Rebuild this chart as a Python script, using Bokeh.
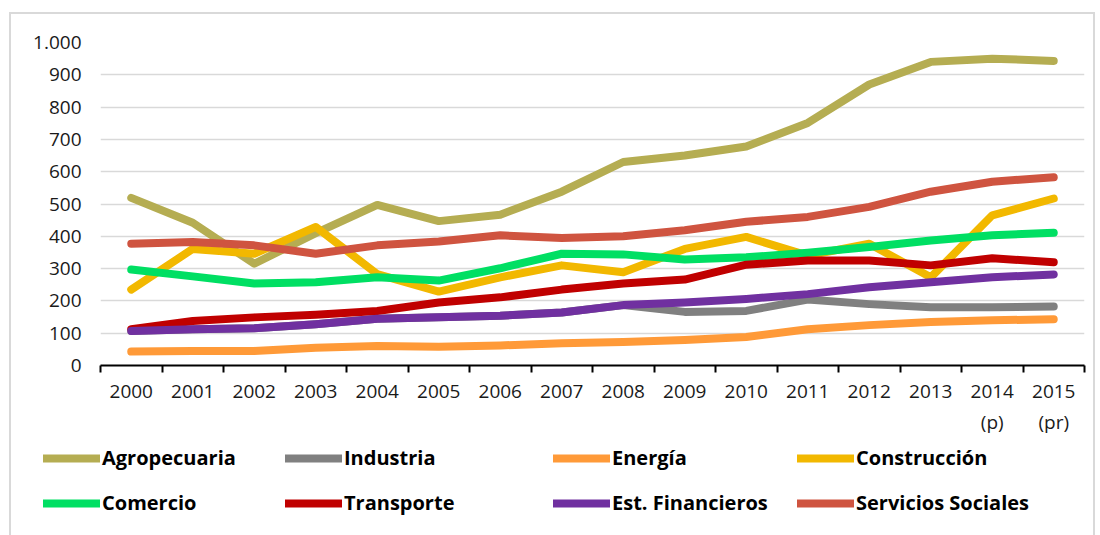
from bokeh.plotting import figure
from bokeh.layouts import column
from bokeh.models import Range1d, FixedTicker, LinearAxis, Legend, LegendItem
from bokeh.embed import file_html
from bokeh.resources import INLINE

years = ["2000", "2001", "2002", "2003", "2004", "2005", "2006", "2007",
         "2008", "2009", "2010", "2011", "2012", "2013", "2014\n(p)", "2015\n(pr)"]

agropecuaria = [519, 442, 315, 410, 497, 447, 467, 538, 630, 650, 678, 751, 870, 940, 950, 943]
industria = [107, 112, 115, 128, 145, 149, 154, 164, 187, 166, 169, 204, 190, 180, 180, 183]
energia = [43, 45, 45, 55, 60, 58, 62, 69, 73, 79, 88, 112, 125, 135, 140, 143]
construccion = [235, 361, 346, 429, 283, 229, 273, 310, 289, 361, 398, 340, 377, 273, 465, 517]
comercio = [297, 276, 254, 258, 273, 263, 301, 346, 344, 328, 335, 349, 367, 387, 403, 411]
transporte = [112, 138, 149, 157, 169, 195, 211, 235, 254, 266, 312, 325, 325, 310, 332, 320]
financieros = [107, 112, 115, 128, 145, 149, 154, 164, 187, 195, 206, 221, 242, 258, 273, 282]
sociales = [377, 382, 372, 346, 372, 384, 403, 395, 400, 419, 445, 460, 491, 538, 569, 583]

series_names = ["Agropecuaria", "Industria", "Energía", "Construcción",
                "Comercio", "Transporte", "Est. Financieros", "Servicios Sociales"]
series_values = [agropecuaria, industria, energia, construccion,
                 comercio, transporte, financieros, sociales]
series_colors = ["#B5AD52", "#808080", "#FF9A38", "#F2B800",
                 "#00DF63", "#C00000", "#7030A0", "#CF5440"]

y_ticks = list(range(0, 1001, 100))
y_label_overrides = {1000: "1.000"}

FONT = "Open Sans"
BORDER = "2px solid #D9D9D9"

n = len(years)
centers = [i + 0.5 for i in range(n)]
bounds = list(range(n + 1))

# ---------------- main chart ----------------
p = figure(width=1086, height=431, output_backend="svg", toolbar_location=None,
           x_range=Range1d(0, n), y_range=Range1d(0, 1000),
           x_axis_location=None,
           min_border_left=89, min_border_right=13, min_border_top=28, min_border_bottom=80)
p.styles = {"border-top": BORDER, "border-left": BORDER, "border-right": BORDER}
p.outline_line_color = None
p.background_fill_color = "white"
p.border_fill_color = "white"
p.xgrid.visible = False

p.yaxis.ticker = FixedTicker(ticks=y_ticks)
p.yaxis.major_label_overrides = y_label_overrides
p.yaxis.axis_line_color = None
p.yaxis.major_tick_line_color = None
p.yaxis.minor_tick_line_color = None
p.yaxis.major_tick_in = 0
p.yaxis.major_tick_out = 0
p.yaxis.major_label_standoff = 19
p.yaxis.major_label_text_font = FONT
p.yaxis.major_label_text_font_size = "19px"
p.yaxis.major_label_text_color = "#1a1a1a"
p.ygrid.ticker = FixedTicker(ticks=y_ticks)
p.ygrid.grid_line_color = "#D9D9D9"
p.ygrid.grid_line_width = 1.5

tick_axis = LinearAxis(ticker=FixedTicker(ticks=bounds),
                       major_label_text_font_size="0px", major_label_standoff=0,
                       major_tick_in=0, major_tick_out=7,
                       minor_tick_in=0, minor_tick_out=0,
                       axis_line_color="black", axis_line_width=2,
                       major_tick_line_color="black", major_tick_line_width=2)
p.add_layout(tick_axis, "below")

label_axis = LinearAxis(ticker=FixedTicker(ticks=centers),
                        major_label_overrides={c: y for c, y in zip(centers, years)},
                        axis_line_color=None, major_tick_line_color=None,
                        minor_tick_line_color=None,
                        major_tick_in=0, major_tick_out=0,
                        major_label_standoff=5,
                        major_label_text_font=FONT,
                        major_label_text_font_size="19px",
                        major_label_text_color="#1a1a1a")
p.add_layout(label_axis, "below")

for name, vals, col in zip(series_names, series_values, series_colors):
    p.line(x=centers, y=vals, line_width=8, line_color=col,
           line_cap="round", line_join="round")

# ---------------- legend strip ----------------
# same series, drawn outside this strip's visible range; only their legend glyphs show
lf = figure(width=1086, height=92, output_backend="svg", toolbar_location=None,
            x_range=Range1d(0, n), y_range=Range1d(-2000, -1000),
            x_axis_location=None, y_axis_location=None,
            min_border_left=0, min_border_right=0,
            min_border_top=0, min_border_bottom=0)
LF_LEFT = 0
if "frame_align" in lf.properties():
    lf.frame_align = False
else:
    LF_LEFT = 89
    lf.min_border_left = 89
    lf.min_border_right = 13
lf.styles = {"border-left": BORDER, "border-right": BORDER}
lf.outline_line_color = None
lf.xgrid.visible = False
lf.ygrid.visible = False

leg_renderers = []
for name, vals, col in zip(series_names, series_values, series_colors):
    r = lf.line(x=centers, y=vals, line_width=8, line_color=col,
                line_cap="round", line_join="round")
    leg_renderers.append(r)

col_x = [32, 274, 542, 786]
for c in range(4):
    items = [LegendItem(label=series_names[c], renderers=[leg_renderers[c]]),
             LegendItem(label=series_names[c + 4], renderers=[leg_renderers[c + 4]])]
    leg = Legend(items=items, location=(col_x[c] - LF_LEFT, 19), orientation="vertical",
                 padding=0, margin=0, spacing=18,
                 glyph_width=57, glyph_height=24, label_standoff=2,
                 label_text_font=FONT, label_text_font_style="bold",
                 label_text_font_size="20px", label_text_color="black",
                 label_text_baseline="middle",
                 border_line_color=None, background_fill_alpha=0)
    lf.add_layout(leg, "center")

layout = column(p, lf, spacing=0)
layout.margin = (12, 0, 0, 9)

open("out.html", "w").write(file_html(layout, INLINE))
